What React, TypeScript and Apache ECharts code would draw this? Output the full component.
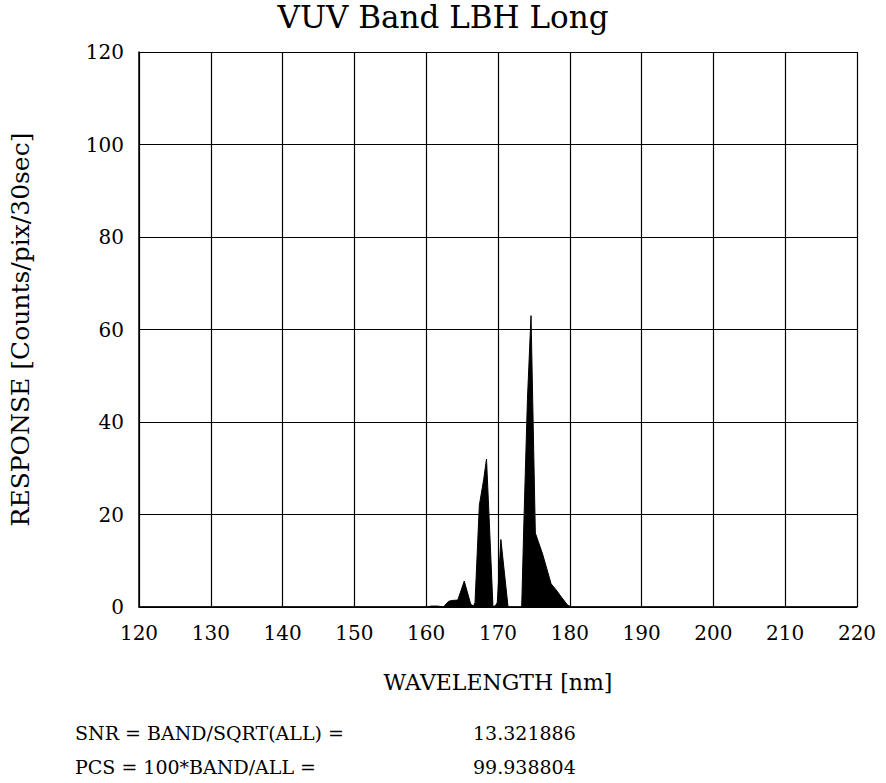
import React, { useEffect, useRef } from "react";
import * as echarts from "echarts";

const titleText = "VUV Band LBH Long";
const xName = "WAVELENGTH [nm]";
const yName = "RESPONSE [Counts/pix/30sec]";

// wavelength (nm) and response
const wavelengths = [
  120, 160, 160.7, 161.6, 162.4, 163.1, 163.5, 164.4, 165.3, 166.2, 166.6,
  166.8, 167.4, 168.0, 168.4, 168.8, 169.3, 169.7, 169.9, 170.4, 171.4,
  173.3, 173.6, 174.1, 174.6, 175.2, 176.2, 177.4, 178.1, 178.9, 179.7, 180.2, 220,
];
const responses = [
  0, 0, 0.2, 0.2, 0, 1.2, 1.4, 1.5, 5.6, 0.6, 0.2,
  1, 22, 27.5, 32, 18, 0, 0.4, 1, 14.6, 0,
  0, 18, 45, 63, 16, 11.5, 5, 3.7, 2, 0.4, 0, 0,
];

const xTicks = { min: 120, max: 220, interval: 10 };
const yTicks = { min: 0, max: 120, interval: 20 };

const statLabels = ["SNR = BAND/SQRT(ALL) =", "PCS = 100*BAND/ALL ="];
const statValues = ["13.321886", "99.938804"];

const FONT = "DejaVu Serif";

export default function App() {
  const ref = useRef<HTMLDivElement>(null);
  useEffect(() => {
    document.body.style.margin = "0";
    if (!ref.current) return;
    const chart = echarts.init(ref.current, null, { renderer: "svg" });
    const data = wavelengths.map((w, i) => [w, responses[i]]);
    const statGraphics: any[] = [];
    statLabels.forEach((t, i) => {
      statGraphics.push({
        type: "text",
        left: 75,
        top: 723 + i * 34,
        style: { text: t, font: `19px "${FONT}"`, fill: "#000" },
      });
      statGraphics.push({
        type: "text",
        left: 473,
        top: 723 + i * 34,
        style: { text: statValues[i], font: `19px "${FONT}"`, fill: "#000" },
      });
    });
    chart.setOption({
      animation: false,
      backgroundColor: "#fff",
      title: {
        text: titleText,
        left: "center",
        top: 0,
        padding: [1, 5, 5, 5],
        textStyle: { fontFamily: FONT, fontSize: 31, fontWeight: "normal", color: "#000" },
      },
      grid: { left: 137, right: 29, top: 52, bottom: 176 },
      xAxis: {
        type: "value",
        min: xTicks.min,
        max: xTicks.max,
        interval: xTicks.interval,
        name: xName,
        nameLocation: "middle",
        nameGap: 64,
        nameTextStyle: { fontFamily: FONT, fontSize: 22, color: "#000" },
        axisLine: { show: true, lineStyle: { color: "#000", width: 1.5 } },
        axisTick: { show: false },
        axisLabel: { margin: 16, fontFamily: FONT, fontSize: 20, color: "#000" },
        splitLine: { show: true, lineStyle: { color: "#000", width: 1.2 } },
      },
      yAxis: {
        type: "value",
        min: yTicks.min,
        max: yTicks.max,
        interval: yTicks.interval,
        name: yName,
        nameLocation: "middle",
        nameGap: 106,
        nameTextStyle: { fontFamily: FONT, fontSize: 25, color: "#000" },
        axisLine: { show: true, lineStyle: { color: "#000", width: 1.5 } },
        axisTick: { show: false },
        axisLabel: { margin: 15, fontFamily: FONT, fontSize: 20, color: "#000" },
        splitLine: { show: true, lineStyle: { color: "#000", width: 1.2 } },
      },
      series: [
        {
          type: "line",
          data,
          showSymbol: false,
          lineStyle: { color: "#000", width: 1 },
          areaStyle: { color: "#000", opacity: 1 },
          itemStyle: { color: "#000" },
        },
      ],
      graphic: statGraphics,
    });
    return () => chart.dispose();
  }, []);
  return <div ref={ref} style={{ width: 886, height: 783 }} />;
}
